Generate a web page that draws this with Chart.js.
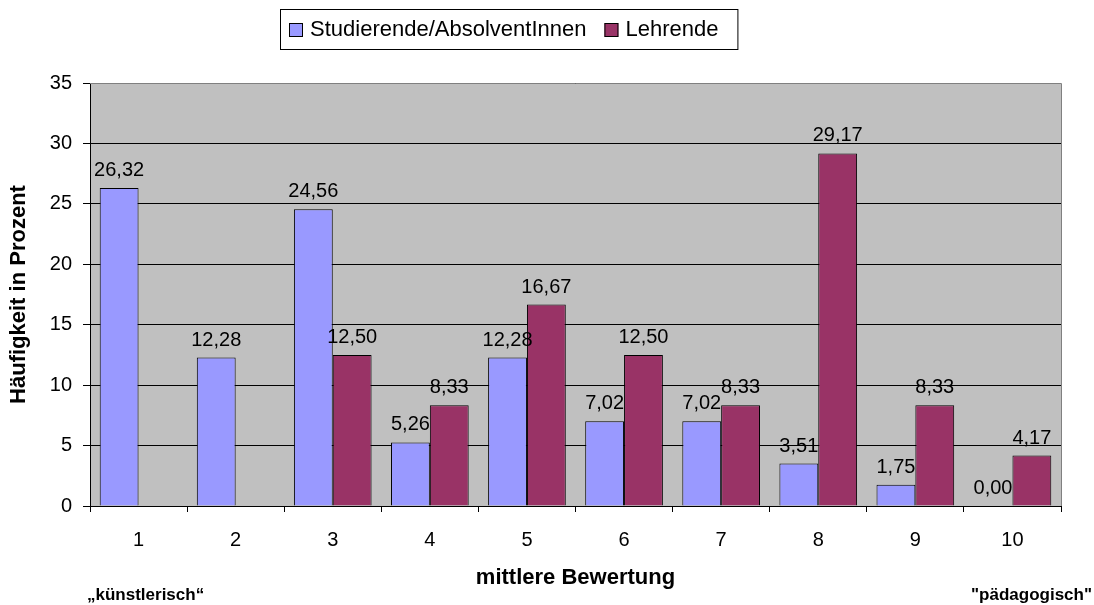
<!DOCTYPE html>
<html lang="de">
<head>
  <meta charset="UTF-8">
  <title>Bewertung</title>
  <style>
    html, body { margin: 0; padding: 0; background: #fff; }
    .chartBox { position: relative; width: 1094px; height: 605px; }
  </style>
</head>
<body>
  <div class="chartBox">
    <canvas id="myChart" width="1094" height="605"></canvas>
  </div>

<script src="https://cdn.jsdelivr.net/npm/chart.js/dist/chart.umd.min.js"></script>
<script>
  // data
  const categories = ['1', '2', '3', '4', '5', '6', '7', '8', '9', '10'];
  const studierende = [26.32, 12.28, 24.56, 5.26, 12.28, 7.02, 7.02, 3.51, 1.75, 0.00];
  const lehrende = [null, null, 12.50, 8.33, 16.67, 12.50, 8.33, 29.17, 8.33, 4.17];
  const yTicks = [0, 5, 10, 15, 20, 25, 30, 35];

  const FONT = '"Liberation Sans", Arial, sans-serif';

  // grey plot background + border
  const plotArea = {
    id: 'plotArea',
    beforeDraw(chart) {
      const { ctx, chartArea: a } = chart;
      ctx.save();
      ctx.fillStyle = '#C0C0C0';
      ctx.fillRect(a.left, a.top, a.right - a.left, a.bottom - a.top);
      ctx.restore();
    },
    afterDraw(chart) {
      const { ctx, chartArea: a } = chart;
      ctx.save();
      ctx.strokeStyle = '#808080';
      ctx.lineWidth = 1;
      ctx.beginPath();
      ctx.moveTo(a.left, a.top + 0.5);
      ctx.lineTo(a.right + 0.5, a.top + 0.5);
      ctx.lineTo(a.right + 0.5, a.bottom);
      ctx.stroke();
      ctx.restore();
    }
  };

  // value labels above bars (german decimal comma)
  const valueLabels = {
    id: 'valueLabels',
    afterDatasetsDraw(chart) {
      const { ctx } = chart;
      ctx.save();
      ctx.font = '20px ' + FONT;
      ctx.fillStyle = '#000';
      ctx.textAlign = 'center';
      ctx.textBaseline = 'alphabetic';
      chart.data.datasets.forEach((ds, i) => {
        chart.getDatasetMeta(i).data.forEach((bar, j) => {
          const v = ds.data[j];
          if (v === null || v === undefined) return;
          ctx.fillText(v.toFixed(2).replace('.', ','), bar.x, bar.y - 12);
        });
      });
      ctx.restore();
    }
  };

  // boxed legend above the plot + the two end labels under the axis
  const extras = {
    id: 'extras',
    afterDraw(chart) {
      const { ctx } = chart;
      ctx.save();
      ctx.font = '22px ' + FONT;
      ctx.textBaseline = 'middle';
      const boxLeft = 280, boxTop = 9, boxH = 40;
      let x = boxLeft + 9;
      const cy = boxTop + boxH / 2 + 1;
      chart.data.datasets.forEach((ds, i) => {
        ctx.fillStyle = ds.backgroundColor;
        ctx.fillRect(x, cy - 7, 14, 14);
        ctx.strokeStyle = '#000';
        ctx.lineWidth = 1;
        ctx.strokeRect(x + 0.5, cy - 6.5, 13, 13);
        ctx.fillStyle = '#000';
        ctx.textAlign = 'left';
        ctx.fillText(ds.label, x + 21, cy);
        x += 21 + ctx.measureText(ds.label).width + 18;
      });
      const boxRight = x - 18 + 19;
      ctx.strokeStyle = '#000';
      ctx.strokeRect(boxLeft + 0.5, boxTop + 0.5, boxRight - boxLeft, boxH);

      ctx.font = 'bold 17px ' + FONT;
      ctx.textAlign = 'left';
      ctx.fillText('\u201Ek\u00FCnstlerisch\u201C', 87, 595);
      ctx.textAlign = 'right';
      ctx.fillText('"p\u00E4dagogisch"', 1092, 595);
      ctx.restore();
    }
  };

  const data = {
    labels: categories,
    datasets: [
      {
        label: 'Studierende/AbsolventInnen',
        data: studierende,
        backgroundColor: '#9999FF',
        borderColor: '#000',
        borderWidth: 1,
        categoryPercentage: 0.8,
        barPercentage: 1.0
      },
      {
        label: 'Lehrende',
        data: lehrende,
        backgroundColor: '#993366',
        borderColor: '#000',
        borderWidth: 1,
        categoryPercentage: 0.8,
        barPercentage: 1.0
      }
    ]
  };

  const config = {
    type: 'bar',
    data,
    options: {
      responsive: false,
      animation: false,
      layout: { padding: { top: 83, right: 33, left: 0, bottom: 0 } },
      plugins: {
        legend: { display: false },
        tooltip: { enabled: false }
      },
      scales: {
        x: {
          grid: {
            offset: true,
            drawOnChartArea: false,
            tickLength: 6,
            color: '#000'
          },
          border: { color: '#000' },
          ticks: {
            color: '#000',
            font: { family: FONT, size: 20 },
            padding: 16
          },
          title: {
            display: true,
            text: 'mittlere Bewertung',
            color: '#000',
            font: { family: FONT, size: 22, weight: 'bold' },
            padding: { top: 0, bottom: 14 }
          },
          afterFit(scale) { scale.height = 99; }
        },
        y: {
          min: 0,
          max: 35,
          afterBuildTicks(scale) { scale.ticks = yTicks.map(v => ({ value: v })); },
          grid: {
            color: '#000',
            tickLength: 7
          },
          border: { color: '#000' },
          ticks: {
            color: '#000',
            font: { family: FONT, size: 20 },
            padding: 11
          },
          title: {
            display: true,
            text: 'H\u00E4ufigkeit in Prozent',
            color: '#000',
            font: { family: FONT, size: 22, weight: 'bold' },
            padding: { top: 6, bottom: 0 }
          },
          afterFit(scale) { scale.width = 90; }
        }
      }
    },
    plugins: [plotArea, valueLabels, extras]
  };

  const myChart = new Chart(document.getElementById('myChart'), config);
</script>
</body>
</html>
